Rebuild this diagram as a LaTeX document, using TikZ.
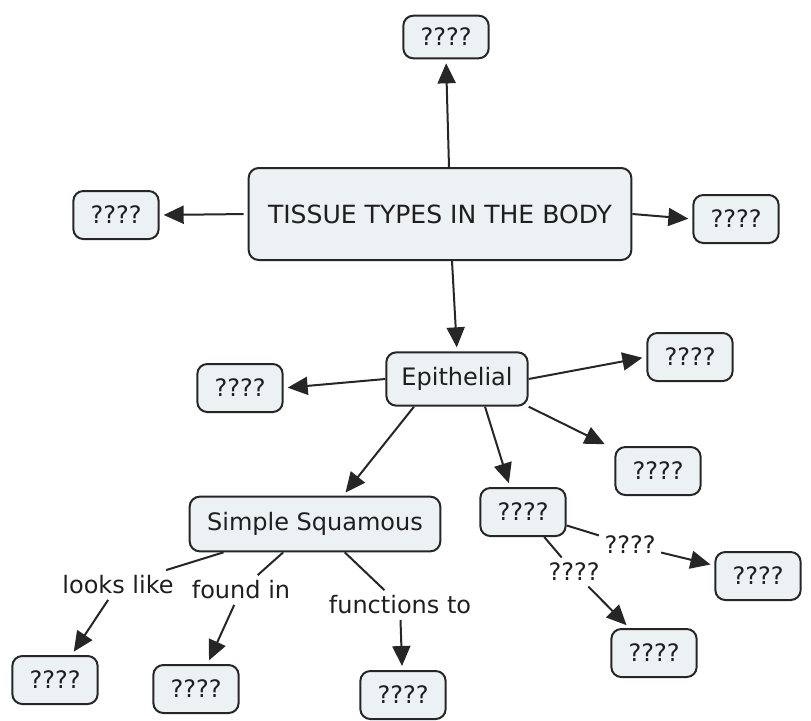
\documentclass[tikz,border=0pt]{standalone}
\usepackage{fontspec}
\setmainfont{DejaVu Sans}
\usetikzlibrary{arrows.meta,calc}
\definecolor{cmapfill}{HTML}{ECF1F4}
\definecolor{cmapline}{HTML}{262626}

\begin{document}
\begin{tikzpicture}[x=0.75pt,y=-0.75pt,
        every node/.style={font=\fontsize{18}{21}\selectfont,text=black!88},
        concept/.style={draw=cmapline,fill=cmapfill,line width=1.5pt,rounded corners=7.5pt,inner sep=0pt},
        qbox/.style={concept,minimum width=64pt,minimum height=36pt},
        linkphrase/.style={inner sep=4pt},
        conn/.style={draw=cmapline,line width=1.5pt},
        arr/.style={conn,-{Triangle[length=15pt,width=13.5pt]},shorten >=3pt}]
    \useasboundingbox (0,0) rectangle (811,721);

    % concepts
    \node[concept,minimum width=287pt,minimum height=69pt,font=\fontsize{18.8}{21}\selectfont] (tissue) at (440,214) {TISSUE TYPES IN THE BODY};
    \node[qbox,minimum height=32pt] (qtop) at (446,37) {????};
    \node[qbox] (qleft) at (116,215) {????};
    \node[qbox] (qright) at (736,219) {????};
    \node[concept,minimum width=106pt,minimum height=40pt] (epi) at (457,379) {Epithelial};
    \node[qbox] (epileft) at (240,388) {????};
    \node[qbox] (epiup) at (690,357) {????};
    \node[qbox] (epilow) at (658,471) {????};
    \node[qbox] (epimid) at (523,512) {????};
    \node[concept,minimum width=188pt,minimum height=41pt] (squam) at (315,524) {Simple Squamous};
    \node[qbox] (looksq) at (55,680) {????};
    \node[qbox] (foundq) at (196,689) {????};
    \node[qbox] (funcq) at (403,695) {????};
    \node[qbox] (midlow) at (654,653) {????};
    \node[qbox] (midright) at (758,576) {????};

    % linking phrases
    \node[linkphrase] (looks) at (118,585) {looks like};
    \node[linkphrase] (found) at (241,590) {found in};
    \node[linkphrase] (func) at (400,605) {functions to};
    \node[linkphrase] (linkA) at (630,545) {????};
    \node[linkphrase] (linkB) at (574,572) {????};

    % connectors
    \draw[arr] ($(tissue.north)+(9,0)$) -- (qtop.south);
    \draw[arr,shorten <=3pt] (tissue.west) -- (qleft.east);
    \draw[arr] (tissue.east) -- (qright.west);
    \draw[arr] ($(tissue.south)+(12,0)$) -- (epi.north);
    \draw[arr] (epi.west) -- (epileft.east);
    \draw[arr] (epi.east) -- (epiup.west);
    \draw[arr] (epi.south east) -- ($(epilow.north west)+(-6,0)$);
    \draw[arr] ($(epi.south)+(28,0)$) -- ($(epimid.north)+(-13,0)$);
    \draw[arr] ($(epi.south)+(-43,0)$) -- ($(squam.north)+(28,0)$);
    \draw[conn] (squam) -- (looks);
    \draw[arr] (looks) -- (looksq);
    \draw[conn] (squam) -- (found);
    \draw[arr] (found) -- (foundq);
    \draw[conn] (squam) -- (func);
    \draw[arr] (func) -- (funcq);
    \draw[conn] (epimid) -- (linkA);
    \draw[arr] (linkA) -- (midright);
    \draw[conn] (epimid) -- (linkB);
    \draw[arr] (linkB) -- (midlow);
\end{tikzpicture}
\end{document}
